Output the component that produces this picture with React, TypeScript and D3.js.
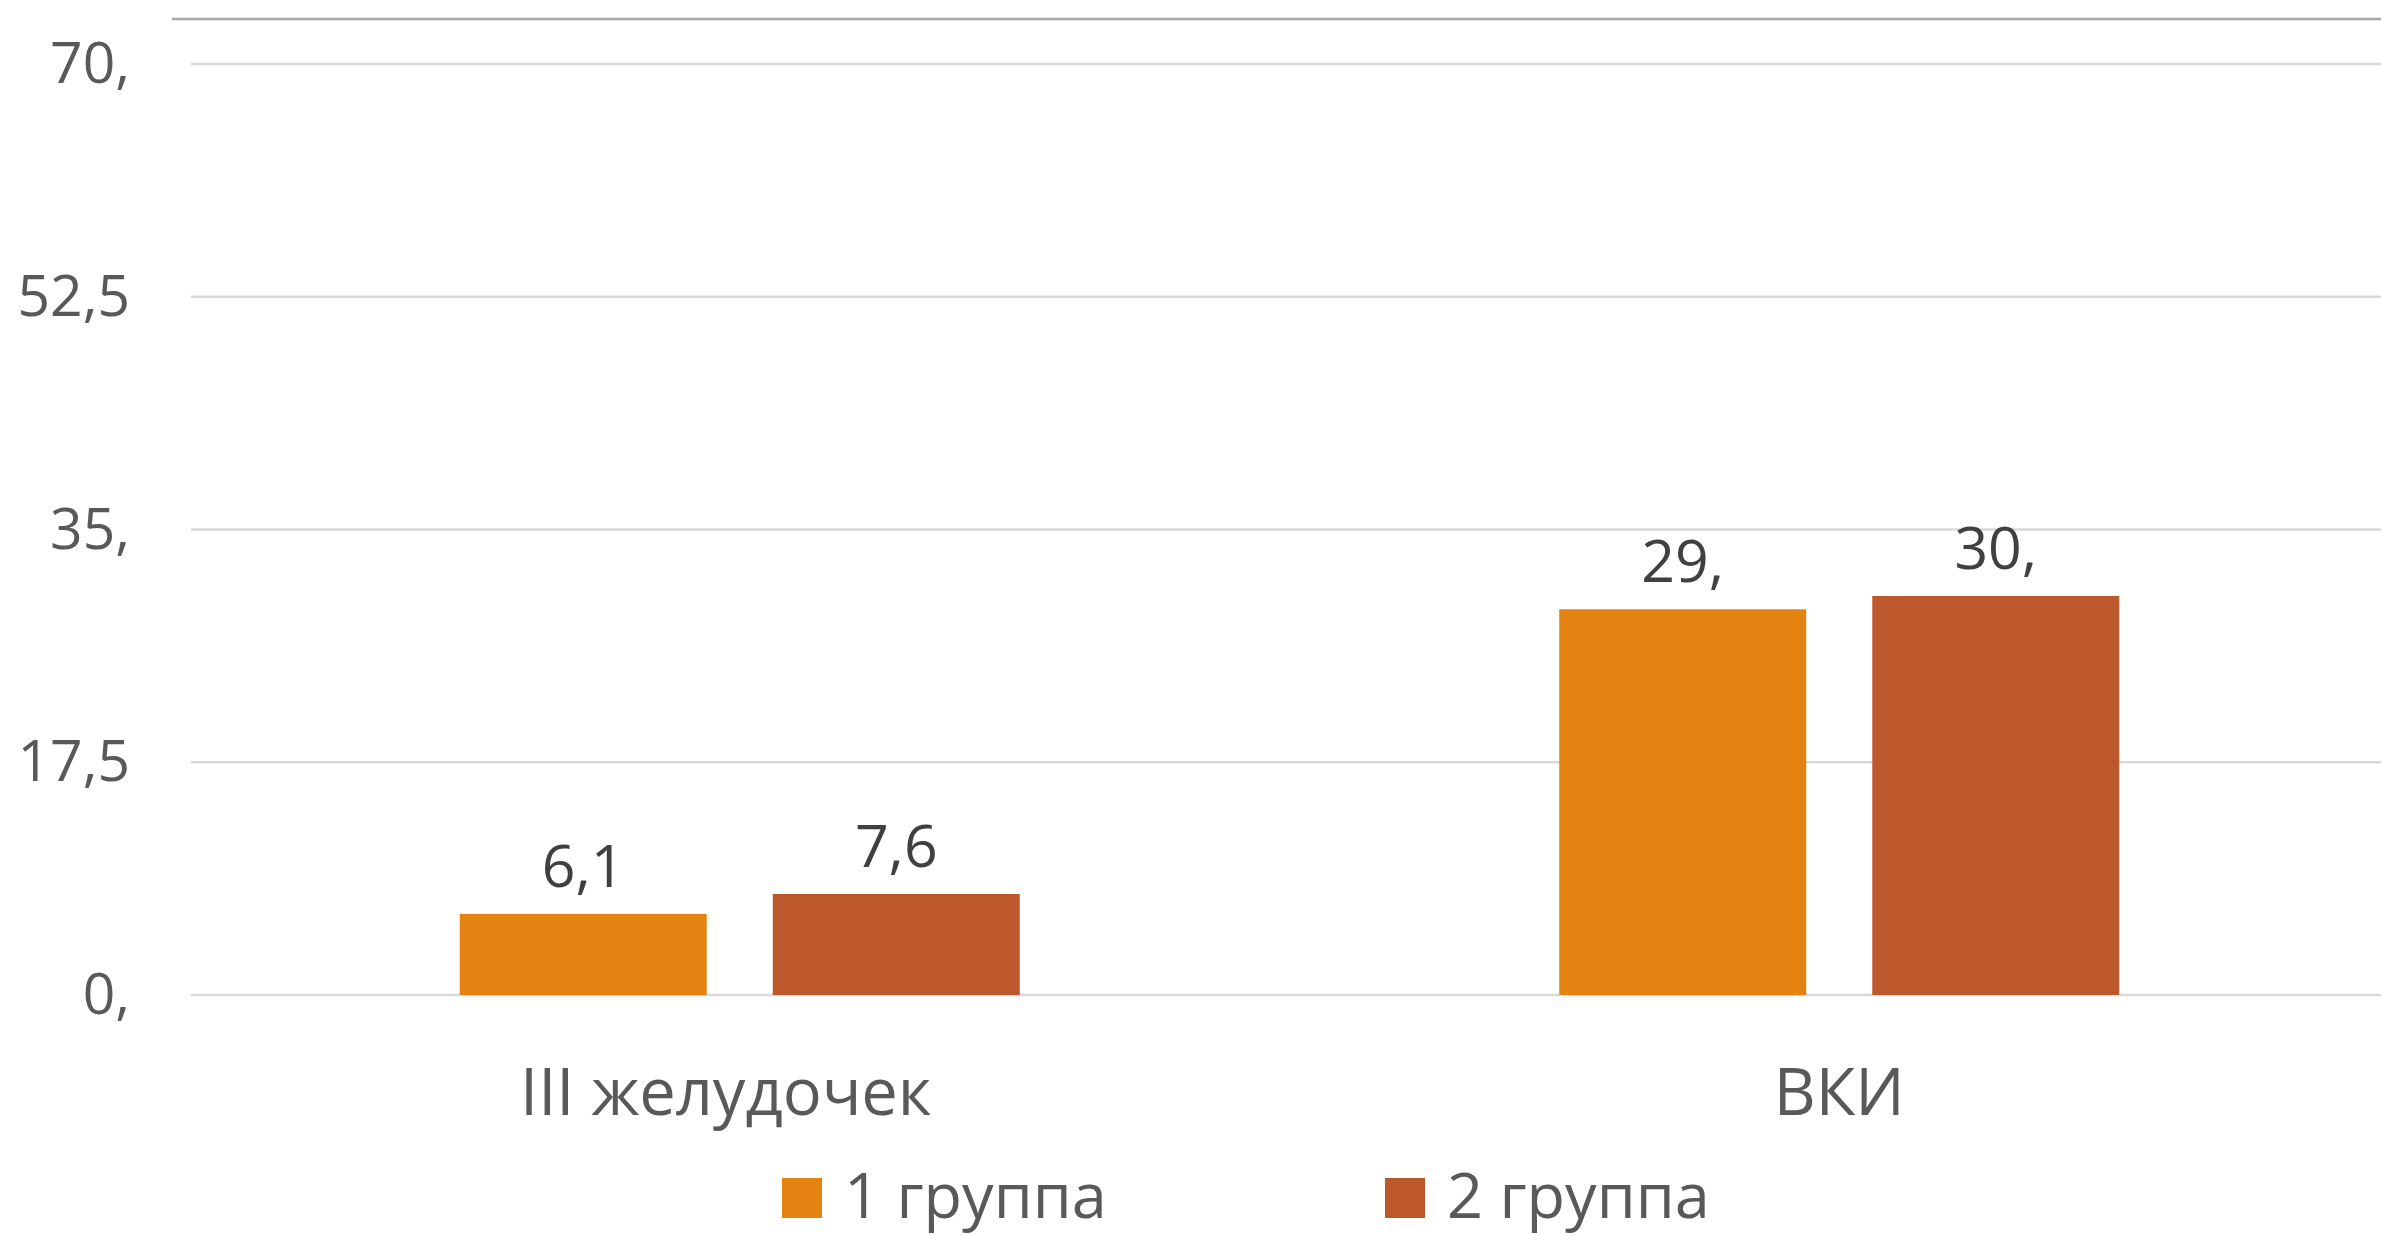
import React from "react";
import * as d3 from "d3";

const categories = ["III желудочек", "ВКИ"];
const seriesNames = ["1 группа", "2 группа"];
const group1Values = [6.1, 29.0];
const group2Values = [7.6, 30.0];
const group1Labels = ["6,1", "29,"];
const group2Labels = ["7,6", "30,"];
const yTickValues = [0, 17.5, 35, 52.5, 70];
const yTickLabels = ["0,", "17,5", "35,", "52,5", "70,"];
const seriesColors = ["#E48312", "#BD582C"];

const W = 2381;
const H = 1235;
const FONT = "'Open Sans', 'Noto Sans', sans-serif";

export default function App() {
  const y = d3.scaleLinear().domain([0, 70]).range([995, 64]);
  const x0 = d3.scaleBand<string>().domain(categories).range([190, 2389]).paddingInner(0).paddingOuter(0);
  const groupW = 560;
  const x1 = d3.scaleBand<string>().domain(seriesNames).range([0, groupW]).paddingInner(0.211).paddingOuter(0);
  const off = (x0.bandwidth() - groupW) / 2;
  const values = [group1Values, group2Values];
  const labels = [group1Labels, group2Labels];
  const catShift = [-14, 0];

  const legendX = [782, 1385];

  return (
    <svg width={W} height={H} style={{ display: "block", position: "absolute", left: 0, top: 0 }}>
      <rect x={0} y={0} width={W} height={H} fill="#ffffff" />
      <line x1={172} x2={W} y1={19} y2={19} stroke="#a6a6a6" strokeWidth={2.5} />
      {yTickValues.map((v, i) => (
        <g key={i}>
          <line x1={191} x2={W} y1={y(v)} y2={y(v)} stroke="#d9d9d9" strokeWidth={2.3} />
          <text x={130} y={y(v) + 19} textAnchor="end" fontFamily={FONT} fontSize={57} fill="#595959">
            {yTickLabels[i]}
          </text>
        </g>
      ))}
      {categories.map((c, ci) => (
        <g key={c}>
          {seriesNames.map((s, si) => {
            const bx = (x0(c) as number) + off + (x1(s) as number);
            const v = values[si][ci];
            return (
              <g key={s}>
                <rect x={bx} y={y(v)} width={x1.bandwidth()} height={y(0) - y(v)} fill={seriesColors[si]} />
                <text x={bx + x1.bandwidth() / 2} y={y(v) - 27} textAnchor="middle" fontFamily={FONT} fontSize={59} fill="#404040">
                  {labels[si][ci]}
                </text>
              </g>
            );
          })}
          <text x={(x0(c) as number) + x0.bandwidth() / 2 + catShift[ci]} y={1115} textAnchor="middle" fontFamily={FONT} fontSize={65} fill="#595959">
            {c}
          </text>
        </g>
      ))}
      {seriesNames.map((s, si) => (
        <g key={s}>
          <rect x={legendX[si]} y={1178} width={40} height={40} fill={seriesColors[si]} />
          <text x={legendX[si] + 62} y={1218} fontFamily={FONT} fontSize={63} fill="#595959">
            {s}
          </text>
        </g>
      ))}
    </svg>
  );
}
